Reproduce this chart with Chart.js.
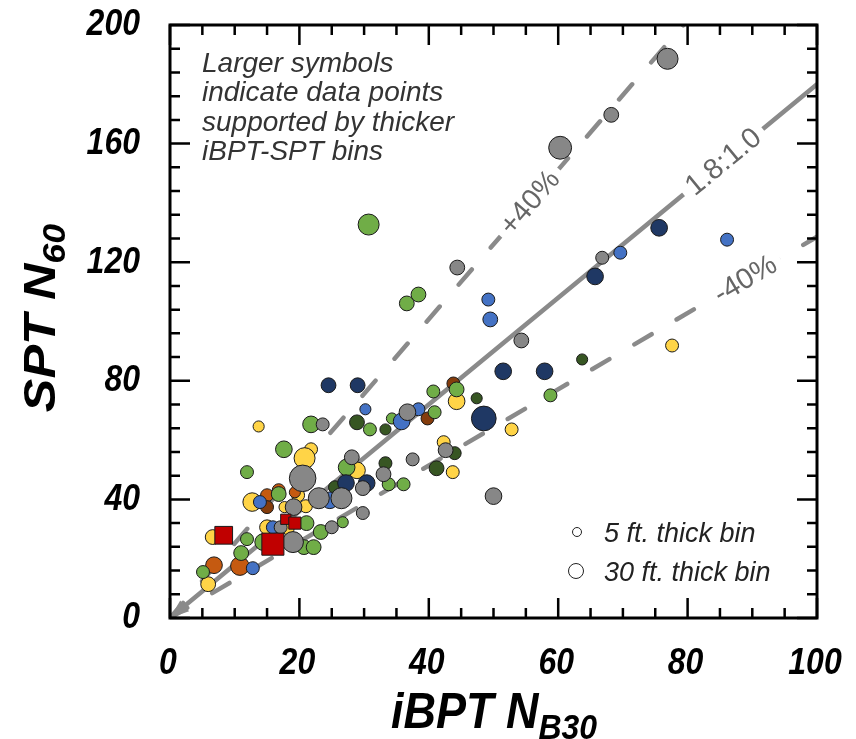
<!DOCTYPE html>
<html>
<head>
<meta charset="utf-8">
<script src="https://cdn.jsdelivr.net/npm/chart.js@4/dist/chart.umd.min.js"></script>
<style>
  html, body { margin: 0; padding: 0; background: #fff; }
  #wrap { width: 856px; height: 739px; }
</style>
</head>
<body>
<div id="wrap"><canvas id="ratioChart" width="856" height="739"></canvas></div>
<script>
// [iBPT N_B30, SPT N60, bin thickness (ft)]
var yellowPts = [[77.6,91.9,8],[52.8,63.6,8],[44.3,73.1,14],[42.3,59.3,8],[43.7,49.2,8],[13.7,64.6,5],
    [21.8,56.9,8],[20.8,53.9,21],[28.9,49.8,14],[12.7,39.1,17],[17.7,37.4,5],[21.0,37.7,8],
    [15.0,30.6,11],[18.2,30.3,8],[6.6,27.3,11],[5.9,11.4,11],[19.8,41.4,8]];
var orangePts = [[15.0,41.4,8],[6.8,17.8,14],[10.8,17.5,17],[16.8,43.1,8],[19.3,42.4,5]];
var brownPts = [[43.8,79.1,8],[39.8,67.3,8],[15.0,37.4,8]];
var greenPts = [[30.7,132.7,21],[36.6,106.1,11],[38.4,109.1,11],[58.8,75.1,8],[44.3,77.1,11],[40.7,76.4,8],
    [34.3,67.3,5],[40.9,69.4,8],[30.9,63.6,8],[33.8,45.1,8],[36.1,45.1,8],[21.8,65.3,14],
    [17.6,56.9,14],[27.3,50.8,14],[11.9,49.2,8],[16.8,41.8,11],[11.9,26.6,8],[11.0,21.9,11],
    [5.1,15.5,8],[14.4,25.6,14],[21.1,32.0,11],[26.7,32.3,5],[23.3,29.0,11],[20.7,23.9,11],[22.2,23.9,11]];
var darkGreenPts = [[63.7,87.2,5],[47.4,74.1,5],[33.3,63.6,5],[28.9,66.0,11],[44.0,55.6,8],[41.2,50.5,11],
    [33.3,52.2,8],[25.5,44.1,8]];
var bluePts = [[49.2,107.4,8],[49.5,100.7,11],[69.6,123.2,8],[86.1,127.6,8],[38.4,70.4,8],[35.8,66.3,14],
    [30.2,70.4,5],[24.7,39.7,14],[13.9,39.1,8],[12.8,16.8,8],[15.9,30.6,8]];
var navyPts = [[65.7,115.2,14],[75.6,131.6,14],[51.5,83.2,14],[57.9,83.2,14],[48.5,67.3,27],[24.5,78.5,11],
    [29.0,78.5,11],[27.2,45.5,14],[30.4,45.5,14]];
var grayPts = [[76.9,188.6,21],[68.2,169.7,11],[60.3,158.6,24],[44.4,118.2,11],[54.3,93.6,11],[66.8,121.5,8],
    [50.0,41.1,14],[36.7,69.4,14],[42.6,56.6,11],[37.5,53.5,8],[33.0,48.5,11],[29.8,43.8,11],
    [29.8,35.4,8],[23.6,65.3,8],[28.1,54.2,11],[20.5,47.1,30],[23.0,40.4,21],[26.5,40.4,21],
    [19.1,37.4,14],[25.0,30.6,8],[19.0,25.6,21],[17.1,30.6,8]];
var redPts = [[8.3,27.9,17],[15.9,24.9,24],[17.9,33.3,5],[19.3,32.0,8]];

var xTicks = [0, 20, 40, 60, 80, 100];
var yTicks = [0, 40, 80, 120, 160, 200];
var ratioMain = 1.8;
var ratioHigh = 1.8 * 1.4;
var ratioLow = 1.8 / 1.4;

var FONT = "'Liberation Sans', Arial, sans-serif";

function sizeOf(t) { return 4.0 + 0.31 * t; }

function toBubbles(list, square) {
    return list.map(function (p) {
        return { x: p[0], y: p[1], r: square ? (sizeOf(p[2]) - 0.4) * Math.SQRT2 : sizeOf(p[2]) };
    });
}

function pointSet(list, color, square) {
    return {
        type: "bubble",
        data: toBubbles(list, square),
        backgroundColor: color,
        borderColor: "#1a1a1a",
        borderWidth: 1,
        pointStyle: square ? "rect" : "circle",
    };
}

function lineSet(ratio, dashed) {
    var xEnd = Math.min(100, 200 / ratio);
    return {
        type: "line",
        data: [{ x: 0, y: 0 }, { x: xEnd, y: ratio * xEnd }],
        borderColor: "#8a8a8a",
        borderWidth: 4.5,
        borderDash: dashed ? [20, 29] : [],
        borderCapStyle: "round",
        pointRadius: 0,
        fill: false,
        order: 50,
    };
}

// text stretched a bit taller, like the original figure
function tallText(ctx, s, px, py, sy) {
    ctx.save();
    ctx.translate(px, py);
    ctx.scale(1, sy);
    ctx.fillText(s, 0, 0);
    ctx.restore();
}

var decorPlugin = {
    id: "decor",
    afterDatasetsDraw: function (chart) {
        var ctx = chart.ctx, x = chart.scales.x, y = chart.scales.y;

        // arrow head at origin
        var ang = Math.atan2(y.getPixelForValue(0) - y.getPixelForValue(ratioMain), x.getPixelForValue(1) - x.getPixelForValue(0));
        ctx.save();
        ctx.translate(x.getPixelForValue(0), y.getPixelForValue(0));
        ctx.rotate(-ang);
        ctx.fillStyle = "#8a8a8a";
        ctx.beginPath();
        ctx.moveTo(0, 0);
        ctx.lineTo(19, -7);
        ctx.lineTo(19, 7);
        ctx.closePath();
        ctx.fill();
        ctx.restore();

        function lineLabel(text, ratio, xv) {
            var px = x.getPixelForValue(xv), py = y.getPixelForValue(ratio * xv);
            var a = Math.atan2(y.getPixelForValue(0) - y.getPixelForValue(ratio), x.getPixelForValue(1) - x.getPixelForValue(0));
            ctx.save();
            ctx.translate(px, py);
            ctx.rotate(-a);
            ctx.font = "29px " + FONT;
            var w = ctx.measureText(text).width;
            ctx.fillStyle = "#fff";
            ctx.fillRect(-w / 2 - 7, -13, w + 14, 26);
            ctx.fillStyle = "#666";
            ctx.textAlign = "center";
            ctx.textBaseline = "middle";
            ctx.fillText(text, 0, 1);
            ctx.restore();
        }
        lineLabel("1.8:1.0", ratioMain, 85.5);
        lineLabel("+40%", ratioHigh, 55.6);
        lineLabel("-40%", ratioLow, 88.9);
    },
    afterDraw: function (chart) {
        var ctx = chart.ctx, a = chart.chartArea, x = chart.scales.x, y = chart.scales.y;
        ctx.save();
        ctx.strokeStyle = "#000";
        ctx.lineWidth = 2.5;
        ctx.beginPath();
        var v, p, len;
        for (v = 0; v <= 100; v += 5) {
            p = x.getPixelForValue(v);
            len = v % 20 === 0 ? 20 : 10;
            ctx.moveTo(p, a.bottom); ctx.lineTo(p, a.bottom - len);
            ctx.moveTo(p, a.top); ctx.lineTo(p, a.top + len);
        }
        for (v = 0; v <= 200; v += 8) {
            p = y.getPixelForValue(v);
            len = v % 40 === 0 ? 20 : 10;
            ctx.moveTo(a.left, p); ctx.lineTo(a.left + len, p);
            ctx.moveTo(a.right, p); ctx.lineTo(a.right - len, p);
        }
        ctx.stroke();
        ctx.lineWidth = 3;
        ctx.strokeRect(a.left, a.top, a.right - a.left, a.bottom - a.top);

        // tick labels
        ctx.fillStyle = "#000";
        ctx.font = "italic bold 32px " + FONT;
        ctx.textBaseline = "middle";
        ctx.textAlign = "center";
        xTicks.forEach(function (t) { tallText(ctx, String(t), x.getPixelForValue(t) - 2, 664, 1.18); });
        ctx.textAlign = "right";
        yTicks.forEach(function (t) { tallText(ctx, String(t), 140, y.getPixelForValue(t), 1.18); });

        // note text
        ctx.fillStyle = "#333";
        ctx.font = "italic 28px " + FONT;
        ctx.textBaseline = "alphabetic";
        ctx.textAlign = "left";
        ["Larger symbols", "indicate data points", "supported by thicker", "iBPT-SPT bins"].forEach(function (s, i) {
            ctx.fillText(s, 202, 72 + i * 29.3);
        });

        // size legend
        ctx.font = "italic 27px " + FONT;
        ctx.fillStyle = "#222";
        ctx.fillText("5 ft. thick bin", 604, 542);
        ctx.fillText("30 ft. thick bin", 604, 581);
        ctx.lineWidth = 1;
        ctx.strokeStyle = "#222";
        ctx.fillStyle = "#fff";
        ctx.beginPath(); ctx.arc(577, 532, 4.5, 0, Math.PI * 2); ctx.fill(); ctx.stroke();
        ctx.beginPath(); ctx.arc(576, 571, 7.5, 0, Math.PI * 2); ctx.fill(); ctx.stroke();

        // axis titles with subscripts
        ctx.fillStyle = "#000";
        var big = "italic bold 45px " + FONT;
        var small = "italic bold 32px " + FONT;
        function title(main, sub, cx, cy, rot, sx, sy) {
            ctx.save();
            ctx.translate(cx, cy);
            ctx.rotate(rot);
            ctx.scale(sx, sy);
            ctx.font = big;
            var w1 = ctx.measureText(main).width;
            ctx.font = small;
            var w2 = ctx.measureText(sub).width;
            var start = -(w1 + w2) / 2;
            ctx.font = big;
            ctx.fillText(main, start, 15);
            ctx.font = small;
            ctx.fillText(sub, start + w1, 25);
            ctx.restore();
        }
        title("iBPT N", "B30", 494, 711, 0, 1, 1.12);
        title("SPT N", "60", 40, 318, -Math.PI / 2, 1.12, 1);
        ctx.restore();
    },
};

document.addEventListener("DOMContentLoaded", function () {
    var ctx = document.getElementById("ratioChart").getContext("2d");

    new Chart(ctx, {
        type: "bubble",
        data: {
            datasets: [
                pointSet(redPts, "#c00000", true),
                pointSet(grayPts, "#878787"),
                pointSet(navyPts, "#1f3864"),
                pointSet(bluePts, "#4472c4"),
                pointSet(darkGreenPts, "#375623"),
                pointSet(greenPts, "#70ad47"),
                pointSet(brownPts, "#843c0c"),
                pointSet(orangePts, "#c55a11"),
                pointSet(yellowPts, "#ffd447"),
                lineSet(ratioMain, false),
                lineSet(ratioHigh, true),
                lineSet(ratioLow, true),
            ],
        },
        options: {
            responsive: false,
            animation: false,
            events: [],
            layout: { padding: { left: 0, top: 25, right: 39, bottom: 0 } },
            scales: {
                x: {
                    type: "linear",
                    min: 0,
                    max: 100,
                    afterFit: function (s) { s.height = 121; },
                    grid: { display: false, drawTicks: false },
                    border: { display: false },
                    ticks: { display: false },
                },
                y: {
                    type: "linear",
                    min: 0,
                    max: 200,
                    afterFit: function (s) { s.width = 170; },
                    grid: { display: false, drawTicks: false },
                    border: { display: false },
                    ticks: { display: false },
                },
            },
            plugins: {
                legend: { display: false },
                tooltip: { enabled: false },
            },
        },
        plugins: [decorPlugin],
    });
});
</script>
</body>
</html>
